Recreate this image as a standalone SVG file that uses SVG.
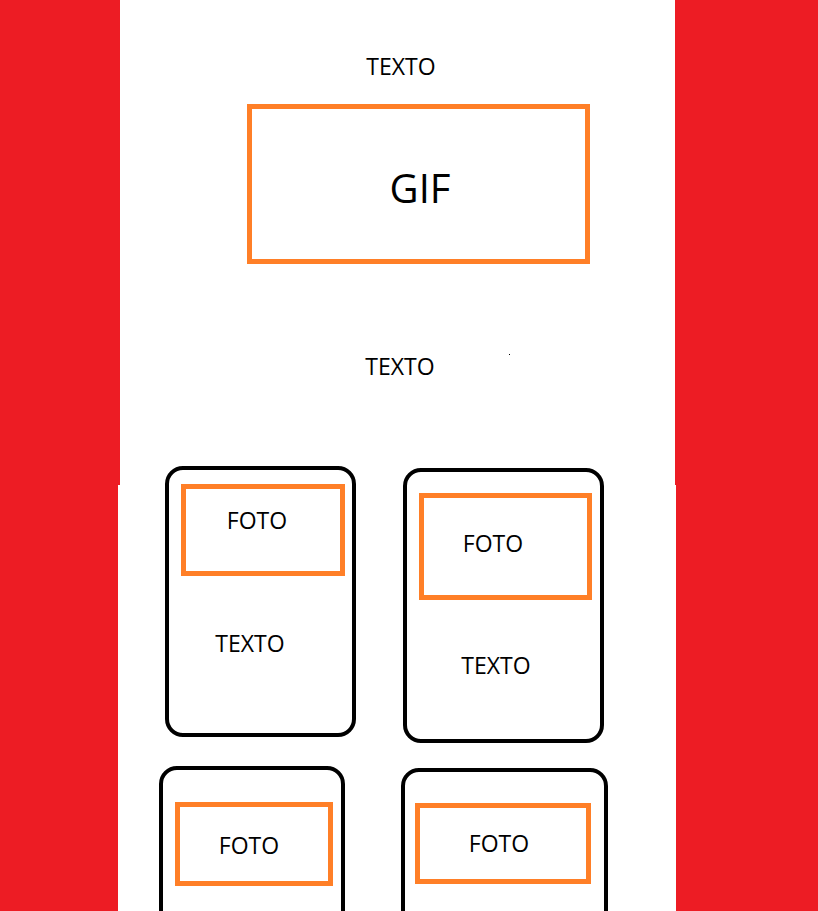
<svg xmlns="http://www.w3.org/2000/svg" width="818" height="911" viewBox="0 0 818 911">
<style>
.t{font-family:"Open Sans","Noto Sans",sans-serif;font-size:23px;fill:#000;text-anchor:middle}
.o{fill:none;stroke:#ff7f27;stroke-width:5}
.c{fill:#fff;stroke:#000;stroke-width:4}
</style>
<rect x="0" y="0" width="818" height="911" fill="#ffffff"/>
<g id="background">
<rect x="0" y="0" width="120" height="485" fill="#ed1c24"/>
<rect x="0" y="485" width="118" height="426" fill="#ed1c24"/>
<rect x="675" y="0" width="143" height="485" fill="#ed1c24"/>
<rect x="676" y="485" width="142" height="426" fill="#ed1c24"/>
<rect x="509" y="354" width="1" height="1" fill="#000"/>
</g>
<g id="text-top"><text class="t" x="401" y="75">TEXTO</text></g>
<g id="gif">
<rect class="o" x="249.5" y="106.5" width="338" height="155"/>
<text class="t" x="420" y="203" style="font-size:40px">GIF</text>
</g>
<g id="text-mid"><text class="t" x="400" y="375">TEXTO</text></g>
<g id="card1">
<rect class="c" x="167" y="468" width="187" height="267" rx="16"/>
<rect class="o" x="183.5" y="486.5" width="159" height="87"/>
<text class="t" x="257" y="529">FOTO</text>
<text class="t" x="250" y="652">TEXTO</text>
</g>
<g id="card2">
<rect class="c" x="405" y="470" width="197" height="271" rx="16"/>
<rect class="o" x="421.5" y="495.5" width="168" height="102"/>
<text class="t" x="493" y="552">FOTO</text>
<text class="t" x="496" y="674">TEXTO</text>
</g>
<g id="card3">
<rect class="c" x="161" y="768" width="182" height="200" rx="16"/>
<rect class="o" x="177.5" y="804.5" width="153" height="79"/>
<text class="t" x="249" y="854">FOTO</text>
</g>
<g id="card4">
<rect class="c" x="403" y="770" width="203" height="200" rx="16"/>
<rect class="o" x="417.5" y="805.5" width="171" height="76"/>
<text class="t" x="499" y="852">FOTO</text>
</g>
<g id="connectors"></g>
</svg>
